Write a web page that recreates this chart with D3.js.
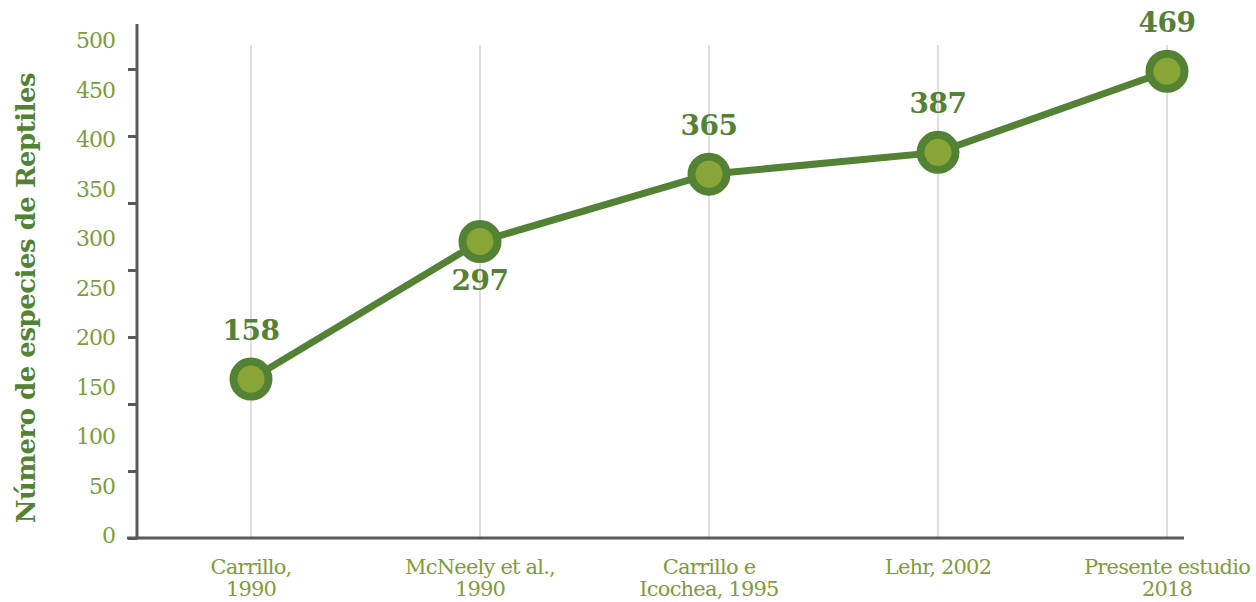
<!DOCTYPE html>
<html>
<head>
<meta charset="utf-8">
<script src="https://cdn.jsdelivr.net/npm/d3@7"></script>
<style>
	body { margin: 0; background: #fff; }
</style>
</head>
<body>
<script>
// data
const categories = ['Carrillo,\n1990', 'McNeely et al.,\n1990', 'Carrillo e\nIcochea, 1995', 'Lehr, 2002', 'Presente estudio\n2018'];
const species = [158, 297, 365, 387, 469];
const yTickLabels = [0, 50, 100, 150, 200, 250, 300, 350, 400, 450, 500];
const labelBelow = [false, true, false, false, false];

const width = 1256;
const height = 602;
const axisX = 137;
const axisY = 538;
const lineGreen = '#548235';
const dotFill = '#8aa537';
const labelGreen = '#7f9c3b';
const serif = '"DejaVu Serif", serif';

const svg = d3.select('body')
	.append('svg')
	.attr('xmlns', 'http://www.w3.org/2000/svg')
	.attr('width', width)
	.attr('height', height);

const xScaleFn = d3.scalePoint().domain(categories).range([251, 1167]);
const yScaleFn = d3.scaleLinear().domain([0, 500]).range([535.5, 40.5]);

// vertical grid lines
svg.append('g')
	.selectAll('line')
	.data(categories)
	.enter()
	.append('line')
	.attr('x1', (d) => xScaleFn(d))
	.attr('x2', (d) => xScaleFn(d))
	.attr('y1', 45)
	.attr('y2', axisY)
	.style('stroke', '#d4d4d4')
	.style('stroke-width', 1.5);

// y axis line + tick marks (tick marks in the source do not line up with labels)
const tickScaleFn = d3.scaleLinear().domain([0, 7]).range([axisY, 69]);
const yAxisMarks = d3.axisLeft(tickScaleFn).ticks(7).tickSize(9).tickFormat(() => '').tickSizeOuter(0);
const yAxisSel = svg.append('g')
	.attr('transform', 'translate(' + axisX + ',0)')
	.call(yAxisMarks);
yAxisSel.select('.domain').remove();
yAxisSel.selectAll('.tick line').style('stroke', '#595959').style('stroke-width', 3);

svg.append('line')
	.attr('x1', axisX).attr('x2', axisX)
	.attr('y1', 24).attr('y2', axisY + 1.5)
	.style('stroke', '#595959').style('stroke-width', 3);

svg.append('line')
	.attr('x1', axisX - 10).attr('x2', 1184)
	.attr('y1', axisY).attr('y2', axisY)
	.style('stroke', '#595959').style('stroke-width', 3);

// y tick labels
svg.append('g')
	.selectAll('text')
	.data(yTickLabels)
	.enter()
	.append('text')
	.attr('x', 115)
	.attr('y', (d) => yScaleFn(d))
	.attr('dy', '0.36em')
	.attr('text-anchor', 'end')
	.style('font-family', serif)
	.style('font-size', '22px')
	.style('letter-spacing', '-1px')
	.style('fill', labelGreen)
	.text((d) => d);

// y title
svg.append('text')
	.attr('transform', 'translate(35,' + 298 + ') rotate(-90)')
	.attr('text-anchor', 'middle')
	.style('font-family', serif)
	.style('font-weight', 'bold')
	.style('font-size', '26px')
	.style('letter-spacing', '-0.5px')
	.style('fill', lineGreen)
	.text('Número de especies de Reptiles');

// category labels
const catSel = svg.append('g')
	.selectAll('text')
	.data(categories)
	.enter()
	.append('text')
	.attr('text-anchor', 'middle')
	.style('font-family', serif)
	.style('font-size', '21px')
	.style('letter-spacing', '-0.8px')
	.style('fill', labelGreen);
catSel.each(function (d) {
	const lines = d.split('\n');
	d3.select(this)
		.selectAll('tspan')
		.data(lines)
		.enter()
		.append('tspan')
		.attr('x', xScaleFn(d))
		.attr('y', (l, i) => 574 + i * 22)
		.text((l) => l);
});

// line
const points = categories.map((c, i) => [xScaleFn(c), yScaleFn(species[i])]);
svg.append('path')
	.datum(points)
	.attr('d', d3.line())
	.style('fill', 'none')
	.style('stroke', lineGreen)
	.style('stroke-width', 7);

// dots
svg.append('g')
	.selectAll('circle')
	.data(points)
	.enter()
	.append('circle')
	.attr('cx', (d) => d[0])
	.attr('cy', (d) => d[1])
	.attr('r', 17.5)
	.style('fill', dotFill)
	.style('stroke', lineGreen)
	.style('stroke-width', 8);

// value labels
svg.append('g')
	.selectAll('text')
	.data(species)
	.enter()
	.append('text')
	.attr('x', (d, i) => points[i][0])
	.attr('y', (d, i) => labelBelow[i] ? points[i][1] + 49 : points[i][1] - 39)
	.attr('text-anchor', 'middle')
	.style('font-family', serif)
	.style('font-weight', 'bold')
	.style('font-size', '28px')
	.style('letter-spacing', '-0.5px')
	.style('fill', lineGreen)
	.text((d) => d);
</script>
</body>
</html>
